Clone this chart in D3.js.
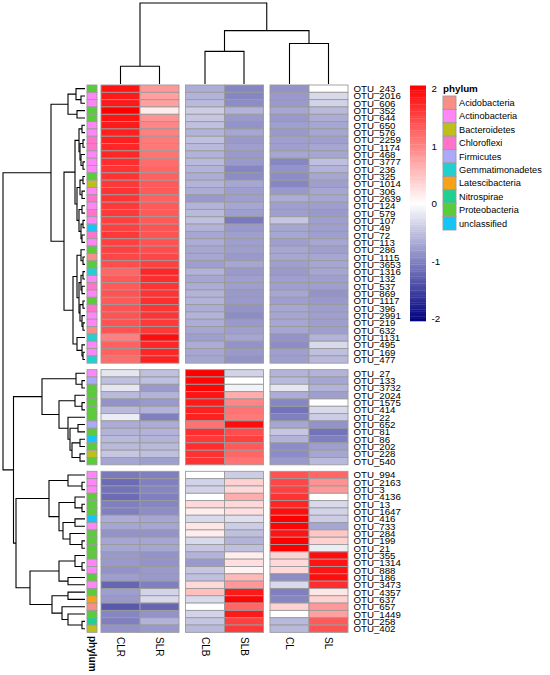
<!DOCTYPE html>
<html>
<head>
<meta charset="utf-8">
<script src="https://cdn.jsdelivr.net/npm/d3@7"></script>
<style>
  body { margin: 0; background: #fff; }
  text { font-family: "Liberation Sans", Arial, sans-serif; fill: #000; }
</style>
</head>
<body>
<div id="vis"></div>
<script>
// columns (samples) and the block each one sits in after cutting the column tree
let samples = ["CLR", "SLR", "CLB", "SLB", "CL", "SL"]
let sampleBlock = [0, 0, 1, 1, 2, 2]

// rows, in the three row clusters
let cluster1Otus = ["OTU_243","OTU_2016","OTU_606","OTU_352","OTU_644","OTU_650","OTU_576","OTU_2259",
    "OTU_1174","OTU_468","OTU_3777","OTU_236","OTU_325","OTU_1014","OTU_306","OTU_2639","OTU_124",
    "OTU_579","OTU_107","OTU_49","OTU_72","OTU_113","OTU_286","OTU_1115","OTU_3653","OTU_1316",
    "OTU_132","OTU_537","OTU_869","OTU_1117","OTU_396","OTU_2991","OTU_219","OTU_632","OTU_1131",
    "OTU_495","OTU_169","OTU_477"]
let cluster2Otus = ["OTU_27","OTU_133","OTU_3732","OTU_2024","OTU_1575","OTU_414","OTU_22","OTU_652",
    "OTU_81","OTU_86","OTU_202","OTU_228","OTU_540"]
let cluster3Otus = ["OTU_994","OTU_2163","OTU_3","OTU_4136","OTU_13","OTU_1647","OTU_416","OTU_733",
    "OTU_284","OTU_199","OTU_21","OTU_355","OTU_1314","OTU_888","OTU_186","OTU_3473","OTU_4357",
    "OTU_637","OTU_657","OTU_1449","OTU_258","OTU_402"]

let cluster1Phylum = ["Proteobacteria","Actinobacteria","Actinobacteria","Proteobacteria","Proteobacteria",
    "Actinobacteria","Actinobacteria","Chloroflexi","Chloroflexi","Actinobacteria","Actinobacteria",
    "Actinobacteria","Proteobacteria","Bacteroidetes","Actinobacteria","Chloroflexi","Actinobacteria",
    "Chloroflexi","Actinobacteria","unclassified","Chloroflexi","Actinobacteria","Proteobacteria",
    "Acidobacteria","Proteobacteria","Gemmatimonadetes","Actinobacteria","Chloroflexi","Actinobacteria",
    "Proteobacteria","Chloroflexi","Actinobacteria","Actinobacteria","Acidobacteria","Gemmatimonadetes",
    "Actinobacteria","Actinobacteria","Gemmatimonadetes"]
let cluster2Phylum = ["Actinobacteria","Firmicutes","Proteobacteria","Proteobacteria","Proteobacteria",
    "Proteobacteria","Proteobacteria","Firmicutes","Proteobacteria","unclassified","Proteobacteria",
    "Bacteroidetes","Proteobacteria"]
let cluster3Phylum = ["Actinobacteria","Actinobacteria","Actinobacteria","Proteobacteria","Proteobacteria",
    "Proteobacteria","unclassified","Actinobacteria","Proteobacteria","Proteobacteria","Proteobacteria",
    "Proteobacteria","Actinobacteria","Actinobacteria","Proteobacteria","Actinobacteria","Proteobacteria",
    "Latescibacteria","Acidobacteria","Proteobacteria","Nitrospirae","Bacteroidetes"]

// row z-scores: CLR, SLR, CLB, SLB, CL, SL
let cluster1Z = [
    [1.85,0.8,-0.65,-0.95,-0.85,0.0],[1.8,0.75,-0.6,-0.95,-0.8,-0.3],[1.8,0.75,-0.55,-0.9,-0.8,-0.35],
    [2.0,0.15,-0.4,-0.6,-0.7,-0.55],[1.85,0.85,-0.45,-0.8,-0.8,-0.65],[1.8,0.95,-0.5,-0.85,-0.75,-0.7],
    [1.75,1.0,-0.6,-0.7,-0.8,-0.7],[1.75,1.05,-0.5,-0.8,-0.75,-0.75],[1.7,1.05,-0.55,-0.75,-0.75,-0.7],
    [1.7,1.1,-0.6,-0.8,-0.7,-0.7],[1.65,1.15,-0.55,-0.8,-0.95,-0.5],[1.6,1.2,-0.6,-0.95,-0.85,-0.6],
    [1.6,1.25,-0.65,-0.9,-0.9,-0.7],[1.55,1.3,-0.6,-0.7,-0.95,-0.75],[1.6,1.3,-0.65,-0.75,-0.8,-0.7],
    [1.6,1.25,-0.8,-0.75,-0.65,-0.7],[1.55,1.3,-0.6,-0.7,-0.75,-0.75],[1.55,1.3,-0.55,-0.75,-0.75,-0.8],
    [1.5,1.3,-0.5,-1.05,-0.45,-0.75],[1.5,1.35,-0.6,-0.8,-0.7,-0.75],[1.55,1.35,-0.7,-0.75,-0.7,-0.75],
    [1.5,1.35,-0.65,-0.75,-0.75,-0.7],[1.5,1.4,-0.7,-0.75,-0.7,-0.75],[1.45,1.45,-0.7,-0.8,-0.7,-0.7],
    [1.4,1.5,-0.75,-0.7,-0.75,-0.7],[1.2,1.7,-0.6,-0.8,-0.8,-0.7],[1.3,1.65,-0.7,-0.75,-0.75,-0.75],
    [1.3,1.6,-0.65,-0.75,-0.75,-0.75],[1.35,1.6,-0.6,-0.8,-0.7,-0.85],[1.3,1.65,-0.6,-0.8,-0.75,-0.8],
    [1.35,1.6,-0.65,-0.85,-0.7,-0.75],[1.35,1.6,-0.6,-0.9,-0.7,-0.75],[1.35,1.55,-0.65,-0.8,-0.7,-0.75],
    [1.35,1.55,-0.7,-0.75,-0.7,-0.75],[1.0,1.9,-0.75,-0.7,-0.85,-0.6],[1.25,1.7,-0.65,-0.85,-0.9,-0.3],
    [1.25,1.7,-0.7,-0.8,-0.75,-0.5],[1.15,1.75,-0.7,-0.85,-0.75,-0.55]
]
let cluster2Z = [
    [-0.2,-0.5,2.0,-0.35,-0.6,-0.6],[-0.5,-0.5,1.95,0.0,-0.55,-0.7],[-0.2,-0.8,1.95,-0.1,-0.2,-0.6],
    [-0.55,-0.6,1.85,0.65,-0.65,-0.75],[-0.85,-0.8,1.8,0.95,-0.95,0.0],[-0.55,-0.6,1.75,1.1,-1.1,-0.3],
    [-0.15,-1.0,1.75,1.05,-1.0,-0.4],[-0.65,-0.65,1.1,1.9,-0.7,-0.85],[-0.6,-0.6,1.65,1.4,-0.45,-1.1],
    [-0.55,-0.6,1.55,1.5,-0.6,-1.0],[-0.55,-0.55,1.65,1.3,-0.9,-0.75],[-0.45,-0.5,1.6,1.2,-0.9,-0.7],
    [-0.7,-0.75,1.6,1.1,-0.8,-0.55]
]
let cluster3Z = [
    [-1.05,-1.0,0.0,-0.4,1.35,1.2],[-1.15,-1.0,-0.35,0.35,1.45,0.85],[-1.1,-0.95,-0.35,0.3,1.5,0.8],
    [-1.15,-1.0,0.0,0.65,1.6,0.0],[-1.0,-0.95,0.3,0.3,1.7,-0.3],[-1.0,-0.9,0.15,0.25,1.9,-0.35],
    [-0.65,-0.7,-0.3,-0.25,2.0,-0.4],[-0.7,-0.7,0.2,-0.4,1.95,-0.7],[-0.85,-0.85,0.15,-0.5,1.85,0.45],
    [-0.7,-0.7,-0.3,-0.6,2.0,0.35],[-0.7,-0.7,-0.45,-0.5,2.0,-0.15],[-0.8,-0.85,-0.6,0.15,0.35,1.9],
    [-0.8,-0.85,-0.8,0.25,0.3,1.85],[-0.85,-0.8,-0.45,0.1,0.3,1.85],[-0.75,-0.8,-0.5,0.55,-0.9,1.9],
    [-1.2,-1.0,0.3,0.8,-0.3,1.65],[-0.75,-0.35,0.5,1.8,-1.0,0.2],[-0.8,-0.3,-0.3,1.95,-0.95,0.35],
    [-1.3,-1.2,0.0,1.2,0.35,0.8],[-0.95,-0.85,-0.35,1.8,0.0,0.75],[-1.0,-0.6,-0.45,1.5,-0.55,1.3],
    [-0.85,-0.8,-0.55,1.55,-0.55,1.35]
]

// phylum legend
let phylumNames = ["Acidobacteria","Actinobacteria","Bacteroidetes","Chloroflexi","Firmicutes",
    "Gemmatimonadetes","Latescibacteria","Nitrospirae","Proteobacteria","unclassified"]
let phylumColors = ["#F88E86","#FF86F6","#BEBE1C","#FF74C9","#AAAAF8",
    "#22D0D0","#F6A21A","#20D090","#5ACB3A","#15C5F5"]

// colour key ticks
let keyTicks = [2, 1, 0, -1, -2]

// dendrograms: [merge height, left, right]; leaves are row / column positions
let colTree = [82, [18, "CLR", "SLR"], [54, [33, "CLB", "SLB"], [41, "CL", "SL"]]]

let rowTree1 = [34,
    [17, [9, 0, [4, 1, 2]], [8, 3, 4]],
    [21,
        [10,
            [6, [3, 5, 6], [5, [2, 7, 8], [4, 9, [2, 10, 11]]]],
            [8, [5, [2, 12, 13], [3, 14, 15]], [6, [3, 16, 17], [4, [2, 18, 19], [3, 20, 21]]]]],
        [12,
            [8, [4, 22, [2, 23, 24]], [6, [4, [2, 25, 26], [3, 27, 28]], [5, [2, 29, 30], [3, 31, [2, 32, 33]]]]],
            [8, 34, [3, 35, [2, 36, 37]]]]]]
let rowTree2 = [43,
    [9, 38, [3, 39, 40]],
    [26, [10, 41, [3, 42, 43]], [17, 44, [15, [7, 45, 46], [13, [5, 47, 48], [5, 49, 50]]]]]]
let rowTree3 = [69,
    [36, [17, 51, [3, 52, 53]], [26, [10, 54, [3, 55, 56]], [22, [10, 57, 58], [15, 59, [3, 60, 61]]]]],
    [55, [26, [10, 62, [3, 63, 64]], [17, 65, 66]], [33, [17, 67, 68], [23, 69, [17, 70, [3, 71, 72]]]]]]
let rowTree = [82, rowTree1, [71.5, rowTree2, rowTree3]]

// ---------------------------------------------------------------
let otus = cluster1Otus.concat(cluster2Otus, cluster3Otus)
let phylum = cluster1Phylum.concat(cluster2Phylum, cluster3Phylum)
let zValues = cluster1Z.concat(cluster2Z, cluster3Z)
let otuGroup = otus.map((o, i) => i < cluster1Otus.length ? 0 : (i < cluster1Otus.length + cluster2Otus.length ? 1 : 2))

let svgWidth = 550
let svgHeight = 675

let heatLeft = 101, heatTop = 85
let cellW = 39, rowH = 7.32
let colGap = 6.5, rowGap = 6.5
let treeRight = 85, treeLeft = 3

let svg = d3.select('#vis')
    .append('svg')
    .attr('width', svgWidth)
    .attr('height', svgHeight)

// scales
let xBand = d3.scaleBand().domain(samples).range([0, samples.length * cellW])
let yBand = d3.scaleBand().domain(otus).range([0, otus.length * rowH])

let xPos = s => heatLeft + xBand(s) + colGap * sampleBlock[samples.indexOf(s)]
let yPos = i => heatTop + yBand(otus[i]) + rowGap * otuGroup[i]

let color = d3.scaleLinear()
    .domain([-2, 0, 2])
    .range(["#000080", "#ffffff", "#ff0000"])
    .clamp(true)

let phylumColor = d3.scaleOrdinal().domain(phylumNames).range(phylumColors)

let border = "#9b9b9b"

// heatmap cells
let cells = []
otus.forEach((o, i) => samples.forEach((s, j) => cells.push({ i: i, s: s, v: zValues[i][j] })))

svg.append('g')
    .selectAll('rect')
    .data(cells)
    .join('rect')
        .attr('x', d => xPos(d.s))
        .attr('y', d => yPos(d.i))
        .attr('width', xBand.bandwidth())
        .attr('height', yBand.bandwidth())
        .attr('fill', d => color(d.v))
        .attr('stroke', border)
        .attr('stroke-width', 0.9)

// phylum annotation column
svg.append('g')
    .selectAll('rect')
    .data(otus)
    .join('rect')
        .attr('x', 87)
        .attr('y', (d, i) => yPos(i))
        .attr('width', 10)
        .attr('height', yBand.bandwidth())
        .attr('fill', (d, i) => phylumColor(phylum[i]))
        .attr('stroke', border)
        .attr('stroke-width', 0.9)

// row labels
svg.append('g')
    .selectAll('text')
    .data(otus)
    .join('text')
        .attr('x', 353.5)
        .attr('y', (d, i) => yPos(i) + rowH / 2)
        .attr('dy', '0.36em')
        .attr('font-size', 9.7)
        .text(d => d)

// column labels (rotated)
let colLabels = svg.append('g')
colLabels.selectAll('text')
    .data(samples)
    .join('text')
        .attr('transform', d => `translate(${xPos(d) + cellW / 2 - 3.5},637) rotate(90)`)
        .attr('font-size', 10)
        .text(d => d)

colLabels.append('text')
    .attr('transform', `translate(88.6,636) rotate(90)`)
    .attr('font-size', 10)
    .attr('font-weight', 'bold')
    .text('phylum')

// dendrogram helper
function layoutTree(tree, leafPos) {
    let root = d3.hierarchy(tree, d => Array.isArray(d) ? d.slice(1) : null)
    root.eachAfter(n => {
        if (n.children) {
            n.h = n.data[0]
            n.p = d3.mean(n.children, c => c.p)
        } else {
            n.h = 0
            n.p = leafPos(n.data)
        }
    })
    return root.descendants().filter(n => n.children)
}

// row dendrogram
let rowHeight = d3.scaleLinear().domain([0, 82]).range([treeRight, treeLeft])
let rowNodes = layoutTree(rowTree, i => yPos(i) + rowH / 2)

svg.append('g')
    .selectAll('path')
    .data(rowNodes)
    .join('path')
        .attr('d', n => {
            let [a, b] = n.children
            return `M${rowHeight(a.h)},${a.p}H${rowHeight(n.h)}V${b.p}H${rowHeight(b.h)}`
        })
        .attr('fill', 'none')
        .attr('stroke', '#000')
        .attr('stroke-width', 1.1)

// column dendrogram
let colHeight = d3.scaleLinear().domain([0, 82]).range([84, 3])
let colNodes = layoutTree(colTree, s => xPos(s) + cellW / 2)

svg.append('g')
    .selectAll('path')
    .data(colNodes)
    .join('path')
        .attr('d', n => {
            let [a, b] = n.children
            return `M${a.p},${colHeight(a.h)}V${colHeight(n.h)}H${b.p}V${colHeight(b.h)}`
        })
        .attr('fill', 'none')
        .attr('stroke', '#000')
        .attr('stroke-width', 1.1)

// colour key
let keyY = d3.scaleLinear().domain([-2, 2]).range([321, 85.5])
let keyLabelY = d3.scaleLinear().domain([-2, 2]).range([318.5, 88.5])
let keySteps = d3.range(-2, 2, 0.04)

let key = svg.append('g')
key.selectAll('rect')
    .data(keySteps)
    .join('rect')
        .attr('x', 410)
        .attr('y', d => keyY(d + 0.04))
        .attr('width', 16)
        .attr('height', d => keyY(d) - keyY(d + 0.04) + 0.3)
        .attr('fill', d => color(d + 0.02))

key.selectAll('text')
    .data(keyTicks)
    .join('text')
        .attr('x', 431.5)
        .attr('y', d => keyLabelY(d))
        .attr('dy', '0.36em')
        .attr('font-size', 9.8)
        .text(d => String(d))

// phylum legend
let legend = svg.append('g')
legend.append('text')
    .attr('x', 443)
    .attr('y', 92)
    .attr('font-size', 9.8)
    .attr('font-weight', 'bold')
    .text('phylum')

let legendRow = d3.scaleBand().domain(phylumNames).range([96, 96 + 13.4 * phylumNames.length])

legend.selectAll('rect')
    .data(phylumNames)
    .join('rect')
        .attr('x', 443)
        .attr('y', d => legendRow(d))
        .attr('width', 13)
        .attr('height', legendRow.bandwidth())
        .attr('fill', d => phylumColor(d))
        .attr('stroke', border)
        .attr('stroke-width', 0.9)

legend.selectAll('text.item')
    .data(phylumNames)
    .join('text')
        .attr('class', 'item')
        .attr('x', 459)
        .attr('y', d => legendRow(d) + legendRow.bandwidth() / 2)
        .attr('dy', '0.36em')
        .attr('font-size', 9.2)
        .text(d => d)
</script>
</body>
</html>
